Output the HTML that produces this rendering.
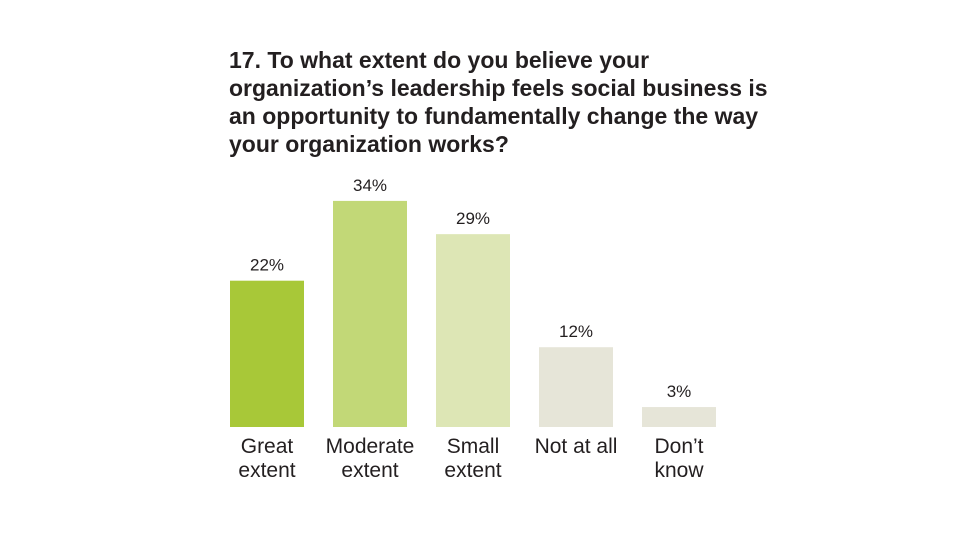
<!DOCTYPE html>
<html><head><meta charset="utf-8"><style>
body{margin:0;background:#fff;}
svg{display:block;font-family:"Liberation Sans Narrow","Liberation Sans",sans-serif;}
</style></head><body>
<svg width="960" height="540">
<g font-weight="bold" font-size="23" fill="#231f20">
<text x="229" y="68">17. To what extent do you believe your</text>
<text x="229" y="96">organization’s leadership feels social business is</text>
<text x="229" y="124">an opportunity to fundamentally change the way</text>
<text x="229" y="152">your organization works?</text>
</g>
<g id="bars"></g>
</svg>
<script>
const categories=[["Great","extent"],["Moderate","extent"],["Small","extent"],["Not at all"],["Don’t","know"]];
const values=[22,34,29,12,3];
const colors=["#a8c838","#c2d877","#dde6b5","#e6e5d8","#e6e5d8"];
const ns="http://www.w3.org/2000/svg";
const g=document.getElementById('bars');
const base=427,scale=6.65,x0=230,step=103,bw=74;
const y=v=>base-v*scale;
values.forEach((v,i)=>{
  const x=x0+i*step;
  const r=document.createElementNS(ns,'rect');
  
  
  r.setAttribute('x',x);r.setAttribute('y',y(v));r.setAttribute('width',bw);r.setAttribute('height',base-y(v));r.setAttribute('fill',colors[i]);
  g.appendChild(r);
  const t=document.createElementNS(ns,'text');
  
  
  t.setAttribute('x',x+bw/2);t.setAttribute('y',y(v)-10);t.setAttribute('text-anchor','middle');t.setAttribute('font-size','17');t.setAttribute('fill','#231f20');
  t.textContent=v+'%';g.appendChild(t);
  categories[i].forEach((s,j)=>{
    const c=document.createElementNS(ns,'text');
    
    
    c.setAttribute('x',x+bw/2);c.setAttribute('y',453+j*24);c.setAttribute('text-anchor','middle');c.setAttribute('font-size','21');c.setAttribute('fill','#231f20');
    c.textContent=s;g.appendChild(c);
  });
});
</script>
</body></html>
